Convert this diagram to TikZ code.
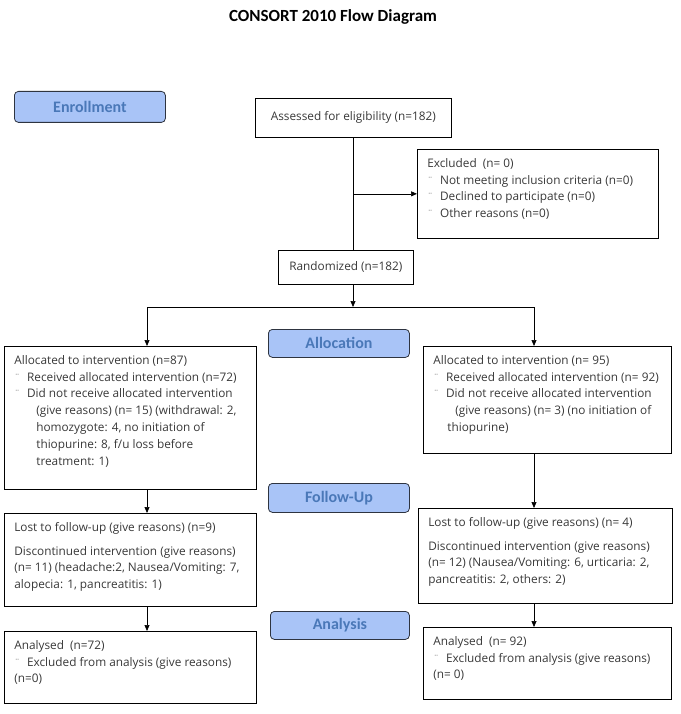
\documentclass[tikz,border=0pt]{standalone}
\usepackage{fontspec}
\setmainfont{Open Sans}
\newfontfamily\labelfont{Carlito}
\usepackage{xcolor}
\usetikzlibrary{arrows.meta, positioning, calc}

\definecolor{stagefill}{HTML}{A9C4F7}
\definecolor{stagetext}{HTML}{4A78B8}
\definecolor{stageline}{HTML}{2E3440}
\definecolor{boxtext}{HTML}{383838}

% bullet mark and top aligned box body
\newcommand{\bul}{{\color{black!60}\fontsize{10}{10}\selectfont ¨}\hspace{7pt}}
\newcommand{\boxbody}[3]{\parbox[c][#2][t]{#1}{#3}}

\tikzset{
  stage/.style={draw=stageline, fill=stagefill, rounded corners=4pt, line width=0.8pt,
    anchor=north west, inner sep=0pt, text=stagetext,
    font=\labelfont\bfseries\fontsize{16}{16}\selectfont},
  flowbox/.style={draw, line width=0.7pt, anchor=north west, inner xsep=10pt, inner ysep=9pt,
    text=boxtext, align=left, font=\fontsize{11.8}{16.8}\selectfont},
  arr/.style={-{Triangle[length=6pt, width=5pt]}, line width=0.7pt}
}

\begin{document}
\begin{tikzpicture}[x=1pt, y=-1pt]
    \useasboundingbox (0,0) rectangle (680,714);

    % title
    \node[font=\labelfont\bfseries\fontsize{17}{17}\selectfont] (title) at (333,17) {CONSORT 2010 Flow Diagram};

    % stages
    \node[stage, minimum width=151pt, minimum height=31pt] (enrol) at (14,91) {Enrollment};
    \node[stage, minimum width=141pt, minimum height=28pt] (alloc) at (268,329) {Allocation};
    \node[stage, minimum width=141pt, minimum height=29pt] (follow) at (268,483) {Follow-Up};
    \node[stage, minimum width=139pt, minimum height=28pt] (analysis) at (270,611) {Analysis};

    % enrollment
    \node[flowbox, align=center, inner sep=0pt, minimum width=196pt, minimum height=39pt] (assess) at (255,98)
        {Assessed for eligibility (n=182)};
    \node[flowbox] (excl) at (417,149) {\boxbody{221pt}{71pt}{%
        Excluded\ \ (n= 0)\\
        \bul Not meeting inclusion criteria (n=0)\\
        \bul Declined to participate (n=0)\\
        \bul Other reasons\ (n=0)}};
    \node[flowbox, align=center, inner sep=0pt, minimum width=135pt, minimum height=34pt] (rand) at (278,250)
        {Randomized (n=182)};

    % allocation
    \node[flowbox] (lalloc) at (4,346) {\boxbody{232pt}{125pt}{%
        Allocated to intervention (n=87)\\
        \bul Received allocated intervention (n=72)\\
        \bul Did not receive allocated intervention\\
        \hspace*{22pt}(give reasons) (n= 15) (withdrawal: 2,\\
        \hspace*{22pt}homozygote: 4, no initiation of\\
        \hspace*{22pt}thiopurine: 8, f/u loss before\\
        \hspace*{22pt}treatment: 1)}};
    \node[flowbox] (ralloc) at (423,346) {\boxbody{228pt}{89pt}{%
        Allocated to intervention (n= 95)\\
        \bul Received allocated intervention (n= 92)\\
        \bul Did not receive allocated intervention\\
        \hspace*{22pt}(give reasons) (n= 3) (no initiation of\\
        \hspace*{14pt}thiopurine)}};

    % follow-up
    \node[flowbox] (llost) at (4,513) {\boxbody{232pt}{75pt}{%
        Lost to follow-up (give reasons) (n=9)\\[7pt]
        Discontinued intervention (give reasons)\\
        (n= 11) (headache:2, Nausea/Vomiting: 7,\\
        alopecia: 1, pancreatitis: 1)}};
    \node[flowbox] (rlost) at (418,508) {\boxbody{234pt}{77pt}{%
        Lost to follow-up (give reasons) (n= 4)\\[7pt]
        Discontinued intervention (give reasons)\\
        (n= 12) (Nausea/Vomiting: 6, urticaria: 2,\\
        pancreatitis: 2, others: 2)}};

    % analysis
    \node[flowbox] (lanal) at (4,631) {\boxbody{232pt}{54pt}{%
        Analysed\ \ (n=72)\\
        \bul Excluded from analysis (give reasons)\\
        (n=0)}};
    \node[flowbox] (ranal) at (423,627) {\boxbody{228pt}{54pt}{%
        Analysed\ \ (n= 92)\\
        \bul Excluded from analysis (give reasons)\\
        (n= 0)}};

    % connectors
    \coordinate (split) at (353,307);
    \coordinate (lsplit) at (147,307);
    \coordinate (rsplit) at (534,307);
    \draw[line width=0.7pt] (assess.south) -- (assess.south |- rand.north);
    \draw[arr] (assess.south |- excl.west) -- (excl.west);
    \draw[arr] (rand.south -| split) -- (split);
    \draw[line width=0.7pt] (lsplit) -- (rsplit);
    \draw[arr] (lsplit) -- (lsplit |- lalloc.north);
    \draw[arr] (rsplit) -- (rsplit |- ralloc.north);
    \draw[arr] (lalloc.south -| lsplit) -- (llost.north -| lsplit);
    \draw[arr] (llost.south -| lsplit) -- (lanal.north -| lsplit);
    \draw[arr] (ralloc.south -| rsplit) -- (rlost.north -| rsplit);
    \draw[arr] (rlost.south -| rsplit) -- (ranal.north -| rsplit);
\end{tikzpicture}
\end{document}
